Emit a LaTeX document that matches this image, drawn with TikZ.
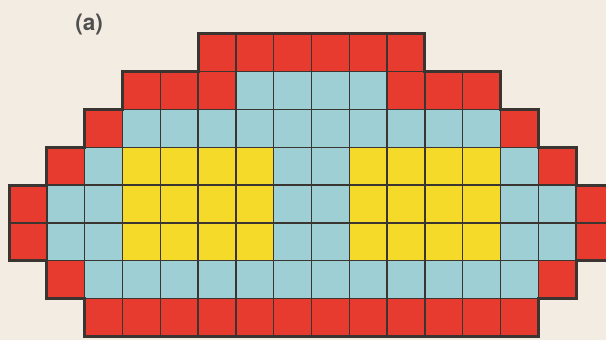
\documentclass[tikz,border=0pt]{standalone}
\usepackage{fontspec}
\setsansfont{TeX Gyre Heros}
\definecolor{tilered}{HTML}{E63B2E}
\definecolor{tileblue}{HTML}{9ECFD4}
\definecolor{tileyellow}{HTML}{F6DA2A}
\definecolor{paper}{HTML}{F2ECE3}
\definecolor{edge}{HTML}{3B3532}
\definecolor{labelgrey}{HTML}{505050}
\begin{document}
\begin{tikzpicture}
\tikzset{cell/.style={draw=edge, line width=1.1pt}}
\tikzset{rim/.style={draw=edge, line width=2.2pt, line join=miter}}
\tikzset{tag/.style={font=\sffamily\bfseries\fontsize{17}{20}\selectfont, text=labelgrey}}

\fill[paper] (-0.24,-0.1) rectangle (15.79,8.895);
\useasboundingbox (-0.24,-0.1) rectangle (15.79,8.895);

\node[tag] (label) at (2.12,8.24) {(a)};

\foreach \r/\first/\last/\col in {0/5/10/tilered,
  1/3/5/tilered, 1/6/9/tileblue, 1/10/12/tilered,
  2/2/2/tilered, 2/3/12/tileblue, 2/13/13/tilered,
  3/1/1/tilered, 3/2/2/tileblue, 3/3/6/tileyellow, 3/7/8/tileblue, 3/9/12/tileyellow, 3/13/13/tileblue, 3/14/14/tilered,
  4/0/0/tilered, 4/1/2/tileblue, 4/3/6/tileyellow, 4/7/8/tileblue, 4/9/12/tileyellow, 4/13/14/tileblue, 4/15/15/tilered,
  5/0/0/tilered, 5/1/2/tileblue, 5/3/6/tileyellow, 5/7/8/tileblue, 5/9/12/tileyellow, 5/13/14/tileblue, 5/15/15/tilered,
  6/1/1/tilered, 6/2/13/tileblue, 6/14/14/tilered,
  7/2/13/tilered}
  \foreach \c in {\first,...,\last}
    \draw[cell, fill=\col] (\c,7-\r) rectangle ++(1,1);

\draw[rim] (5,8) -- (11,8) -- (11,7) -- (13,7) -- (13,6) -- (14,6) -- (14,5) -- (15,5) -- (15,4) -- (16,4)
  -- (16,2) -- (15,2) -- (15,1) -- (14,1) -- (14,0) -- (2,0) -- (2,1) -- (1,1) -- (1,2) -- (0,2)
  -- (0,4) -- (1,4) -- (1,5) -- (2,5) -- (2,6) -- (3,6) -- (3,7) -- (5,7) -- cycle;
\end{tikzpicture}
\end{document}
